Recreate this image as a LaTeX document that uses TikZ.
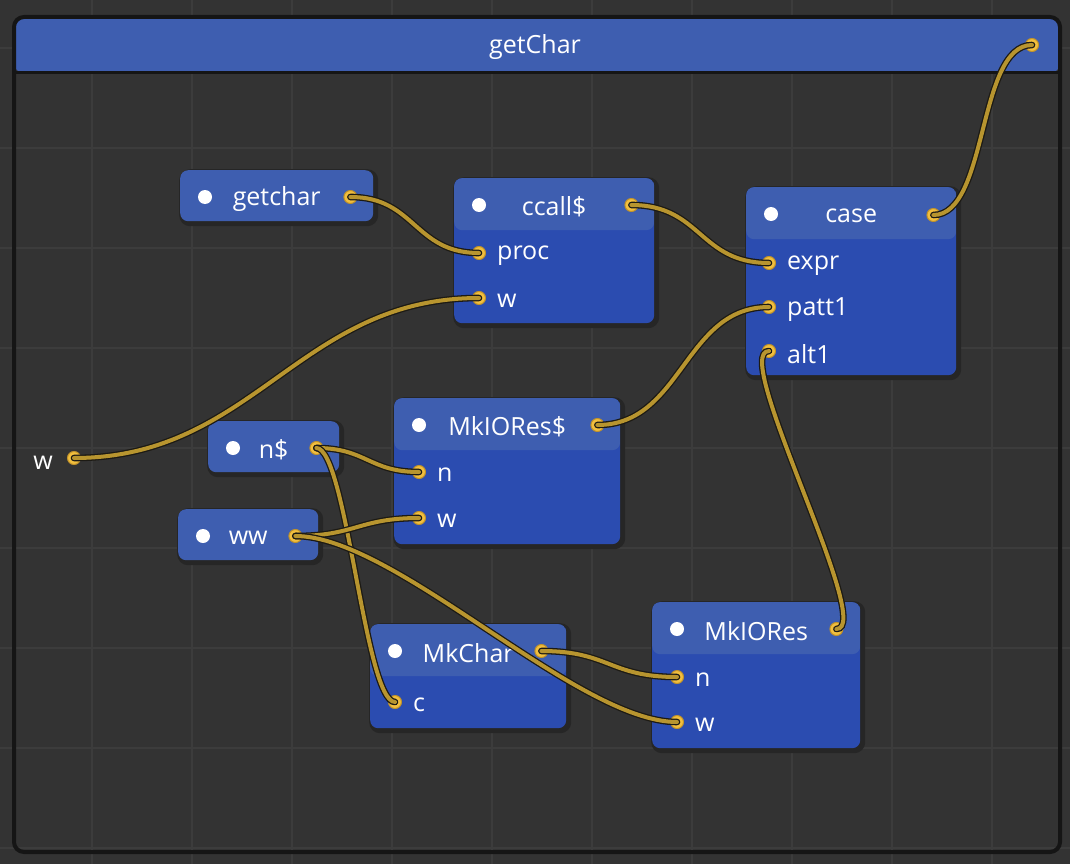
\documentclass[tikz,border=0pt]{standalone}
\usepackage{fontspec}
\setmainfont{Open Sans}
\usetikzlibrary{positioning}

\definecolor{bgc}{HTML}{333333}
\definecolor{gridc}{HTML}{3C3C3C}
\definecolor{framec}{HTML}{151515}
\definecolor{rimc}{HTML}{262626}
\definecolor{hdrblue}{HTML}{3E5EB0}
\definecolor{bodyblue}{HTML}{2B4CB0}
\definecolor{wiregold}{HTML}{B8952F}
\definecolor{wireedge}{HTML}{1C1A14}
\definecolor{portgold}{HTML}{F2BF3E}
\definecolor{portedge}{HTML}{C0922A}

\tikzset{
  block/.style={anchor=north west, inner sep=0pt, fill=bodyblue, rounded corners=8pt,
    preaction={fill=rimc, draw=rimc, line width=6pt, transform canvas={shift={(2pt,-2pt)}}},
    path picture={\fill[hdrblue] (path picture bounding box.north west)
      rectangle ([yshift=-52pt]path picture bounding box.north east);}},
  varbox/.style={anchor=north west, inner sep=0pt, fill=hdrblue, rounded corners=8pt,
    minimum height=51pt,
    preaction={fill=rimc, draw=rimc, line width=6pt, transform canvas={shift={(2pt,-2pt)}}}},
  port/.style={circle, fill=portgold, draw=portedge, line width=1pt, inner sep=0pt, minimum size=13pt},
  title/.style={text=white, font=\fontsize{25}{29}\selectfont},
  plabel/.style={text=white, font=\fontsize{25}{29}\selectfont, inner sep=2pt, yshift=-3pt},
  wire/.style={draw=wireedge, line width=1.3pt, double=wiregold, double distance=4pt, line cap=round},
}

\begin{document}
\begin{tikzpicture}[x=1pt,y=-1pt]
  \useasboundingbox (0,0) rectangle (1070,864);
  \fill[bgc] (0,0) rectangle (1070,864);
  \foreach \x in {92,192,...,992} \draw[gridc, line width=1.5pt] (\x,0) -- (\x,864);
  \foreach \y in {48,148,...,848} \draw[gridc, line width=1.5pt] (0,\y) -- (1070,\y);

  % outer frame with header
  \node[anchor=north west, inner sep=0pt, minimum width=1046pt, minimum height=835pt,
    rounded corners=10pt, draw=framec, line width=4pt,
    path picture={\fill[hdrblue] (path picture bounding box.north west)
      rectangle ([yshift=-56pt]path picture bounding box.north east);
      \draw[framec, line width=3pt] ([yshift=-56pt]path picture bounding box.north west)
      -- ([yshift=-56pt]path picture bounding box.north east);}] (frame) at (12,15) {};
  \node[title] (ftitle) at (535,47) {getChar};
  \node[plabel] (win-lab) at (43,460) {w};

  % boxes
  \node[varbox, minimum width=193pt] (getchar) at (180,170) {};
  \node[varbox, minimum width=131pt] (nd) at (208,421) {};
  \node[varbox, minimum width=140pt] (ww) at (178,509) {};
  \node[block, minimum width=200pt, minimum height=145pt] (ccall) at (454,178) {};
  \node[block, minimum width=210pt, minimum height=188pt] (case) at (746,187) {};
  \node[block, minimum width=226pt, minimum height=146pt] (mkiod) at (394,398) {};
  \node[block, minimum width=196pt, minimum height=104pt] (mkchar) at (370,624) {};
  \node[block, minimum width=208pt, minimum height=146pt] (mkio) at (652,602) {};

  % titles and bullets
  \foreach \b/\t in {getchar/getchar, nd/n\$, ww/ww, ccall/ccall\$, case/case,
                     mkiod/MkIORes\$, mkchar/MkChar, mkio/MkIORes} {
    \node[title] at ([yshift=-29pt]\b.north) {\t};
    \fill[white] ([xshift=25pt,yshift=-27pt]\b.north west) circle (7pt);
  }

  % ports
  \node[port] (win) at (74,458) {};
  \node[port] (fout) at (1032,45) {};
  \node[port] (getchar-out) at ([xshift=-23pt,yshift=-27pt]getchar.north east) {};
  \node[port] (nd-out) at ([xshift=-23pt,yshift=-27pt]nd.north east) {};
  \node[port] (ww-out) at ([xshift=-23pt,yshift=-27pt]ww.north east) {};
  \node[port] (ccall-out) at ([xshift=-23pt,yshift=-27pt]ccall.north east) {};
  \node[port] (ccall-proc) at ([xshift=25pt,yshift=-75pt]ccall.north west) {};
  \node[port] (ccall-w) at ([xshift=25pt,yshift=-120pt]ccall.north west) {};
  \node[port] (case-out) at ([xshift=-23pt,yshift=-28pt]case.north east) {};
  \node[port] (case-expr) at ([xshift=23pt,yshift=-76pt]case.north west) {};
  \node[port] (case-patt) at ([xshift=23pt,yshift=-120pt]case.north west) {};
  \node[port] (case-alt) at ([xshift=23pt,yshift=-164pt]case.north west) {};
  \node[port] (mkiod-out) at ([xshift=-23pt,yshift=-27pt]mkiod.north east) {};
  \node[port] (mkiod-n) at ([xshift=25pt,yshift=-74pt]mkiod.north west) {};
  \node[port] (mkiod-w) at ([xshift=25pt,yshift=-120pt]mkiod.north west) {};
  \node[port] (mkchar-out) at ([xshift=-25pt,yshift=-27pt]mkchar.north east) {};
  \node[port] (mkchar-c) at ([xshift=25pt,yshift=-78pt]mkchar.north west) {};
  \node[port] (mkio-out) at ([xshift=-24pt,yshift=-27pt]mkio.north east) {};
  \node[port] (mkio-n) at ([xshift=25pt,yshift=-75pt]mkio.north west) {};
  \node[port] (mkio-w) at ([xshift=25pt,yshift=-120pt]mkio.north west) {};

  % input labels
  \node[plabel, right=9pt of ccall-proc] {proc};
  \node[plabel, right=9pt of ccall-w] {w};
  \node[plabel, right=9pt of case-expr] {expr};
  \node[plabel, right=9pt of case-patt] {patt1};
  \node[plabel, right=9pt of case-alt] {alt1};
  \node[plabel, right=9pt of mkiod-n] {n};
  \node[plabel, right=9pt of mkiod-w] {w};
  \node[plabel, right=9pt of mkchar-c] {c};
  \node[plabel, right=9pt of mkio-n] {n};
  \node[plabel, right=9pt of mkio-w] {w};

  % wires
  \draw[wire] (getchar-out.center) to[out=0,in=180,distance=65pt] (ccall-proc.center);
  \draw[wire] (win.center) to[out=0,in=180,distance=180pt] (ccall-w.center);
  \draw[wire] (ccall-out.center) to[out=0,in=180,distance=70pt] (case-expr.center);
  \draw[wire] (case-out.center) to[out=0,in=180,distance=55pt] (fout.center);
  \draw[wire] (mkiod-out.center) to[out=0,in=180,distance=85pt] (case-patt.center);
  \draw[wire] (mkio-out.center) to[out=0,in=180,distance=40pt] (case-alt.center);
  \draw[wire] (nd-out.center) to[out=0,in=180,distance=50pt] (mkiod-n.center);
  \draw[wire] (nd-out.center) to[out=0,in=180,distance=30pt] (mkchar-c.center);
  \draw[wire] (ww-out.center) to[out=0,in=180,distance=60pt] (mkiod-w.center);
  \draw[wire] (ww-out.center) to[out=0,in=180,distance=100pt] (mkio-w.center);
  \draw[wire] (mkchar-out.center) to[out=0,in=180,distance=68pt] (mkio-n.center);
\end{tikzpicture}
\end{document}
